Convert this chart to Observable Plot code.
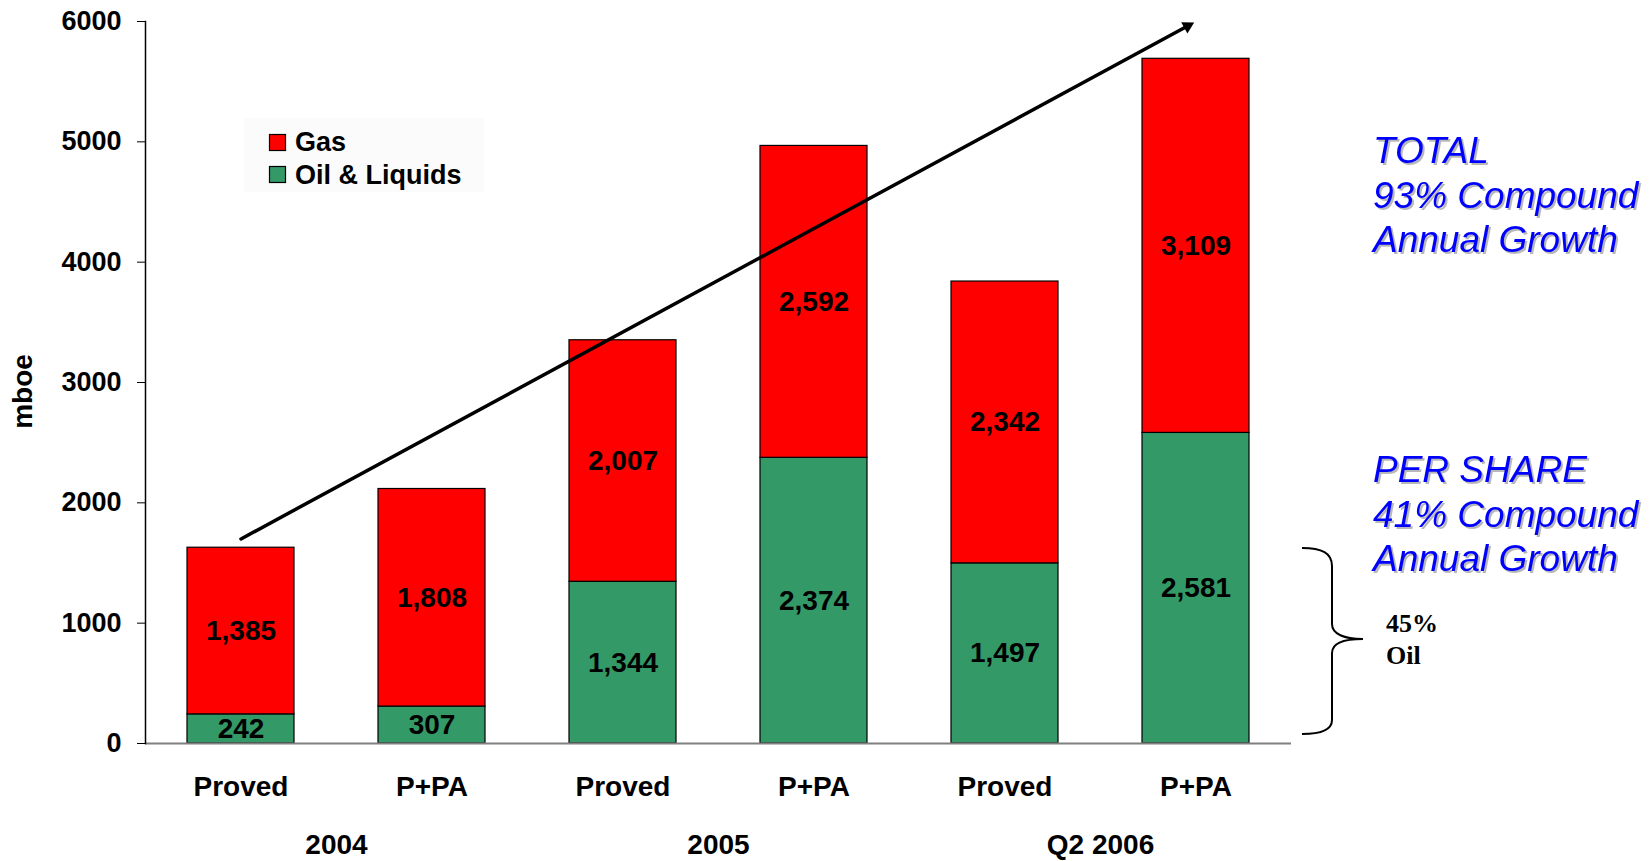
<!DOCTYPE html>
<html>
<head>
<meta charset="utf-8">
<script src="https://cdn.jsdelivr.net/npm/d3@7"></script>
<script src="https://cdn.jsdelivr.net/npm/@observablehq/plot@0.6"></script>
<style>
  html, body { margin: 0; padding: 0; background: #ffffff; }
  #wrap { position: relative; width: 1651px; height: 861px; overflow: hidden; font-family: "Liberation Sans", Arial, sans-serif; }
  #wrap > svg.plot { position: absolute; left: 0; top: 0; }
  #overlay { position: absolute; left: 0; top: 0; pointer-events: none; }
  .blue { fill: #0000ff; font-style: italic; font-size: 37px; font-family: "Liberation Sans", Arial, sans-serif; filter: drop-shadow(2px 2px 0px #b8b8b8); }
</style>
</head>
<body>
<div id="wrap"></div>
<script>
// ---- data ----
const years = ["2004", "2004", "2005", "2005", "Q2 2006", "Q2 2006"];
const types = ["Proved", "P+PA", "Proved", "P+PA", "Proved", "P+PA"];
const oilValues = [242, 307, 1344, 2374, 1497, 2581];
const gasValues = [1385, 1808, 2007, 2592, 2342, 3109];
const seriesNames = ["Gas", "Oil & Liquids"];
const yearLabels = ["2004", "2005", "Q2 2006"];
const yTicks = [0, 1000, 2000, 3000, 4000, 5000, 6000];
const yLabel = "mboe";
const trendStart = 1700, trendEnd = 6000;

// ---- table ----
const keys = years.map((y, i) => `${y}|${types[i]}`);
const rows = [];
keys.forEach((k, i) => rows.push({key: k, type: types[i], year: years[i], series: seriesNames[1], value: oilValues[i]}));
keys.forEach((k, i) => rows.push({key: k, type: types[i], year: years[i], series: seriesNames[0], value: gasValues[i]}));
const typeOf = Object.fromEntries(keys.map((k, i) => [k, types[i]]));
// year label sits between the two bars of each year -> anchored on the second bar
const yearRows = yearLabels.map(y => ({year: y, key: keys[years.lastIndexOf(y)]}));

const W = 1651, H = 861;
const mL = 145, mR = 360, mT = 21, mB = 118;
const step = (W - mL - mR) / keys.length;
const fmt = d3.format(",");
const font = "Liberation Sans, Arial, sans-serif";

const chart = Plot.plot({
  width: W,
  height: H,
  marginLeft: mL,
  marginRight: mR,
  marginTop: mT,
  marginBottom: mB,
  style: {fontFamily: font, background: "transparent", overflow: "visible"},
  x: {domain: keys, paddingInner: 0.44, paddingOuter: 0.22, axis: null},
  y: {domain: [0, 6000], axis: null},
  color: {domain: seriesNames, range: ["#ff0000", "#339966"]},
  marks: [
    Plot.barY(rows, Plot.stackY({x: "key", y: "value", fill: "series", stroke: "#000", strokeWidth: 1.2, order: null})),
    Plot.text(rows, Plot.stackY({x: "key", y: "value", text: d => fmt(d.value), fontSize: 28, fontWeight: "bold", fill: "#000", order: null})),
    Plot.ruleY([0], {stroke: "#808080", strokeWidth: 2}),
    Plot.frame({anchor: "left", stroke: "#000", strokeWidth: 1.5}),
    Plot.axisY({ticks: yTicks, tickSize: 8, tickPadding: 16, fontSize: 27, fontWeight: "bold", label: null, tickFormat: d => String(d), stroke: "#000"}),
    Plot.axisX({tickSize: 0, tickPadding: 33, fontSize: 28, fontWeight: "bold", label: null, tickFormat: k => typeOf[k]}),
    Plot.text(yearRows, {x: "key", text: "year", frameAnchor: "bottom", lineAnchor: "middle", dx: -step / 2, dy: 102, fontSize: 28, fontWeight: "bold", fill: "#000"}),
    Plot.text([yLabel], {frameAnchor: "left", textAnchor: "middle", lineAnchor: "middle", dx: -122, dy: 9, rotate: -90, fontSize: 28, fontWeight: "bold", fill: "#000"}),
    Plot.arrow([0], {x1: () => keys[0], y1: () => trendStart, x2: () => keys[keys.length - 1], y2: () => trendEnd, stroke: "#000", strokeWidth: 3.5, headLength: 0, insetEnd: 9, bend: 0}),
    Plot.dot([0], {x: () => keys[keys.length - 1], y: () => trendEnd, symbol: "triangle2", r: 6.2, fill: "#000", stroke: "none", rotate: 61.6, dx: -8.4, dy: 4.6})
  ]
});
chart.classList.add("plot");
const wrap = document.getElementById("wrap");
wrap.appendChild(chart);

// ---- annotations (legend, growth notes, brace) ----
const ns = "http://www.w3.org/2000/svg";
const ov = document.createElementNS(ns, "svg");
ov.setAttribute("id", "overlay");
ov.setAttribute("width", W);
ov.setAttribute("height", H);
ov.innerHTML = `
  <rect x="244" y="118" width="240" height="74" fill="#fbfbfb"/>
  <rect x="269.5" y="134.5" width="16" height="16" fill="#ff0000" stroke="#000" stroke-width="1.2"/>
  <text x="295" y="151" font-family="${font}" font-weight="bold" font-size="27">${seriesNames[0]}</text>
  <rect x="269.5" y="166.5" width="16" height="16" fill="#339966" stroke="#000" stroke-width="1.2"/>
  <text x="295" y="184" font-family="${font}" font-weight="bold" font-size="27">${seriesNames[1]}</text>

  <text class="blue" x="1373" y="163">TOTAL</text>
  <text class="blue" x="1373" y="208">93% Compound</text>
  <text class="blue" x="1373" y="252">Annual Growth</text>
  <text class="blue" x="1373" y="482">PER SHARE</text>
  <text class="blue" x="1373" y="527">41% Compound</text>
  <text class="blue" x="1373" y="571">Annual Growth</text>

  <path d="M1302,548 C1322,548 1332,553 1332,566 L1332,624 C1332,634 1344,639 1363,639 C1344,639 1332,643 1332,653 L1332,720 C1332,730 1322,734 1302,734" fill="none" stroke="#000" stroke-width="2"/>
  <text x="1386" y="632" font-family="Liberation Serif, Times New Roman, serif" font-weight="bold" font-size="26">45%</text>
  <text x="1386" y="664" font-family="Liberation Serif, Times New Roman, serif" font-weight="bold" font-size="26">Oil</text>
`;
wrap.appendChild(ov);
</script>
</body>
</html>
